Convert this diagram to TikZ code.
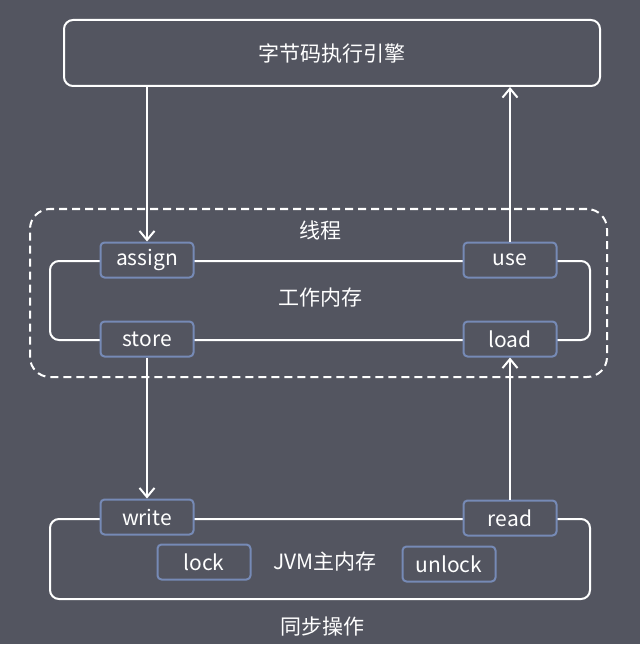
\documentclass[tikz,border=0pt]{standalone}
\usepackage{fontspec}
\setmainfont{Noto Sans CJK SC}
\usetikzlibrary{arrows.meta}
\definecolor{bg}{RGB}{83,85,96}
\definecolor{opborder}{RGB}{118,138,182}
\begin{document}
\begin{tikzpicture}[x=1pt,y=-1pt,
  frame/.style={draw=white,line width=2pt,rounded corners=9pt,inner sep=0pt},
  op/.style={draw=opborder,line width=2pt,fill=bg,rounded corners=4pt,minimum width=93pt,minimum height=35pt,text=white,font=\fontsize{21}{24}\selectfont,inner sep=0pt},
  lbl/.style={text=white,font=\fontsize{21}{24}\selectfont,inner sep=0pt},
  arr/.style={draw=white,line width=2pt,-{Straight Barb[length=9pt,width=15pt,line width=2pt]}}
]
\useasboundingbox (0,0) rectangle (640,652);
\fill[bg] (0,0) rectangle (640,644);
% top engine box
\node[frame,minimum width=536pt,minimum height=66pt,text=white,font=\fontsize{21}{24}\selectfont] (engine) at (332,53) {字节码执行引擎};
% thread dashed box
\node[draw=white,line width=2pt,dash pattern=on 8pt off 5pt,rounded corners=20pt,minimum width=577pt,minimum height=168pt,inner sep=0pt] (thread) at (318.5,293) {};
\node[lbl] (threadlbl) at (320,230) {线程};
% working memory
\node[frame,minimum width=540pt,minimum height=79pt] (work) at (320,300.5) {};
\node[lbl] (worklbl) at (320,298) {工作内存};
\node[op] (assign) at (147,260) {assign};
\node[op] (use) at (510,260) {use};
\node[op] (store) at (147,339) {store};
\node[op] (load) at (510,339) {load};
% main memory
\node[frame,minimum width=540pt,minimum height=80pt] (main) at (320,559) {};
\node[op] (write) at (147,517) {write};
\node[op] (read) at (510,518) {read};
\node[op] (lock) at (204,562) {lock};
\node[op] (unlock) at (449,564) {unlock};
\node[lbl] (mainlbl) at (325,562) {JVM主内存};
\node[lbl] (synclbl) at (322,627) {同步操作};
% arrows
\draw[arr] (engine.south -| assign.north) -- (assign.north);
\draw[arr] (use.north) -- (use.north |- engine.south);
\draw[arr] (store.south) -- (write.north);
\draw[arr] (read.north) -- (load.south);
\end{tikzpicture}
\end{document}
